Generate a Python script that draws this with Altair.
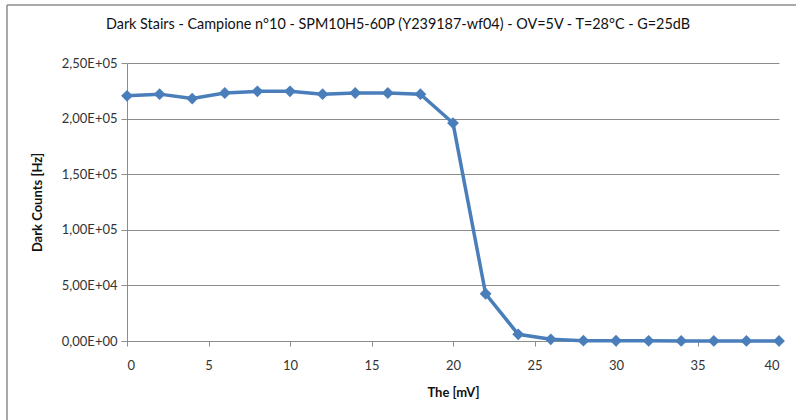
import altair as alt
import pandas as pd

threshold_mv = [0, 2, 4, 6, 8, 10, 12, 14, 16, 18, 20, 22, 24, 26, 28, 30, 32, 34, 36, 38, 40]
dark_counts = [220500, 222000, 218000, 223000, 224500, 224500, 222000, 223000, 223000, 222000,
               196000, 42500, 6000, 1500, 300, 200, 150, 100, 100, 100, 100]
y_ticks = [0, 50000, 100000, 150000, 200000, 250000]
x_ticks = [0, 5, 10, 15, 20, 25, 30, 35, 40]
title_text = "Dark Stairs - Campione n°10 - SPM10H5-60P (Y239187-wf04)  - OV=5V - T=28°C - G=25dB"

df = pd.DataFrame({"x": threshold_mv, "y": dark_counts})
one = pd.DataFrame({"k": [0]})

FONT = "Lato"
BLUE = "#4A7EBB"

label_expr = (
    "datum.value == 0 ? '0,00E+00' : "
    "replace(format(datum.value / pow(10, floor(log(datum.value)/LN10 + 1e-9)), '.2f'), '.', ',')"
    " + 'E+0' + floor(log(datum.value)/LN10 + 1e-9)"
)

base = alt.Chart(df)

line = base.mark_line(color=BLUE, strokeWidth=3.5, clip=False).encode(
    x=alt.X("x:Q", scale=alt.Scale(domain=[0, 40], nice=False),
            axis=alt.Axis(values=x_ticks, title="The [mV]", grid=False, tickSize=5,
                          labelPadding=13, titlePadding=14)),
    y=alt.Y("y:Q", scale=alt.Scale(domain=[0, 250000], nice=False),
            axis=alt.Axis(values=y_ticks, title="Dark Counts [Hz]", grid=True, tickSize=6,
                          labelExpr=label_expr, labelPadding=4, titlePadding=17)),
)
points = base.mark_point(shape="diamond", filled=True, color=BLUE, size=140, opacity=1, clip=False).encode(
    x="x:Q", y="y:Q"
)

border_top = alt.Chart(one).mark_rule(color="#8c8c8c", strokeWidth=1.5).encode(
    x=alt.value(-120), x2=alt.value(700), y=alt.value(-58)
)
border_left = alt.Chart(one).mark_rule(color="#8c8c8c", strokeWidth=1.5).encode(
    x=alt.value(-120), y=alt.value(-58), y2=alt.value(400)
)
title = alt.Chart(one).mark_text(font=FONT, fontSize=14.4, color="#111", align="center",
                                 baseline="middle").encode(
    x=alt.value(271), y=alt.value(-38), text=alt.value(title_text)
)

chart = alt.layer(border_top, border_left, title, line, points).properties(
    width=652, height=278,
    autosize=alt.AutoSizeParams(type="none"),
    padding={"left": 127, "top": 63, "right": 17, "bottom": 79},
).configure(background="white").configure_view(stroke=None).configure_axis(
    labelFont=FONT, labelFontSize=13, labelColor="#333",
    titleFont=FONT, titleFontSize=13, titleFontWeight="bold", titleColor="#111",
    domainColor="#8c8c8c", tickColor="#8c8c8c", gridColor="#8c8c8c", gridWidth=1,
)

chart.save("out.html", embed_options={"renderer": "svg", "actions": False})
